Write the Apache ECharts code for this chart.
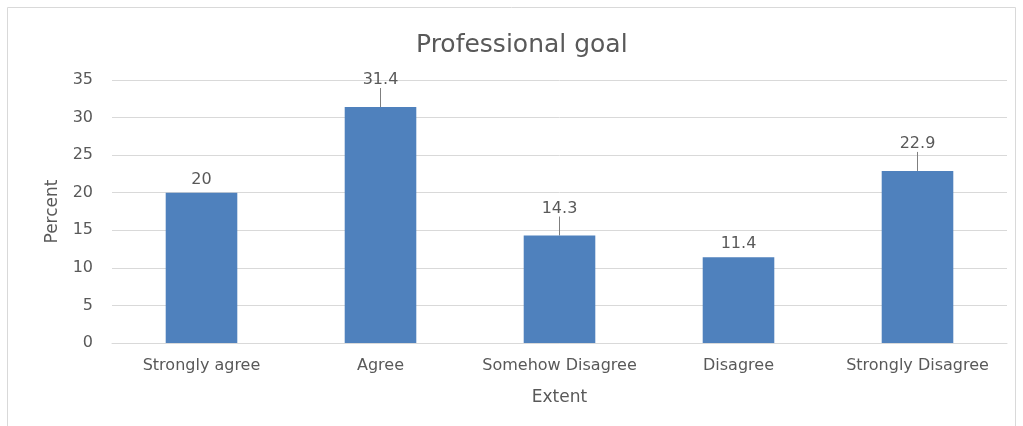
<!DOCTYPE html>
<html><head><meta charset="utf-8">
<script src="https://cdn.jsdelivr.net/npm/echarts@6/dist/echarts.min.js"></script>
<style>html,body{margin:0;padding:0;background:#fff}#c{width:1023px;height:426px}</style>
</head><body><div id="c"></div>
<script>
var categories = ['Strongly agree', 'Agree', 'Somehow Disagree', 'Disagree', 'Strongly Disagree'];
var values = [20, 31.4, 14.3, 11.4, 22.9];
var labelLift = [0, 14, 14, 0, 14];

var chart = echarts.init(document.getElementById('c'));
var font = '"DejaVu Sans", sans-serif';
chart.setOption({
  animation: false,
  graphic: [{type: 'rect', shape: {x: 7.5, y: 7.5, width: 1008, height: 430}, style: {fill: 'none', stroke: '#d9d9d9', lineWidth: 1}}],
  title: {text: 'Professional goal', left: 411, top: 28, textStyle: {fontFamily: font, fontSize: 25, fontWeight: 'normal', color: '#595959'}},
  grid: {left: 112, right: 16, top: 80, bottom: 83},
  xAxis: {
    type: 'category', data: categories,
    name: 'Extent', nameLocation: 'middle', nameGap: 46,
    nameTextStyle: {fontFamily: font, fontSize: 17, color: '#595959'},
    axisLine: {lineStyle: {color: '#d9d9d9'}}, axisTick: {show: false},
    axisLabel: {interval: 0, fontFamily: font, fontSize: 16, color: '#595959', margin: 15}
  },
  yAxis: {
    type: 'value', min: 0, max: 35, interval: 5,
    name: 'Percent', nameLocation: 'middle', nameGap: 51,
    nameTextStyle: {fontFamily: font, fontSize: 17, color: '#595959'},
    axisLine: {show: false}, axisTick: {show: false},
    axisLabel: {fontFamily: font, fontSize: 16, color: '#595959', margin: 19},
    splitLine: {lineStyle: {color: '#d9d9d9'}}
  },
  series: [{
    type: 'bar', barWidth: '40%',
    data: values.map(function (v, i) {
      return {value: v, labelLine: {show: labelLift[i] > 0}};
    }),
    itemStyle: {color: '#4f81bd'},
    label: {show: true, position: 'top', distance: 5, fontFamily: font, fontSize: 16, color: '#595959'},
    labelLine: {show: true, lineStyle: {color: '#7f7f7f', width: 1}},
    labelLayout: function (p) { return {dy: -labelLift[p.dataIndex]}; }
  }]
});
</script></body></html>
